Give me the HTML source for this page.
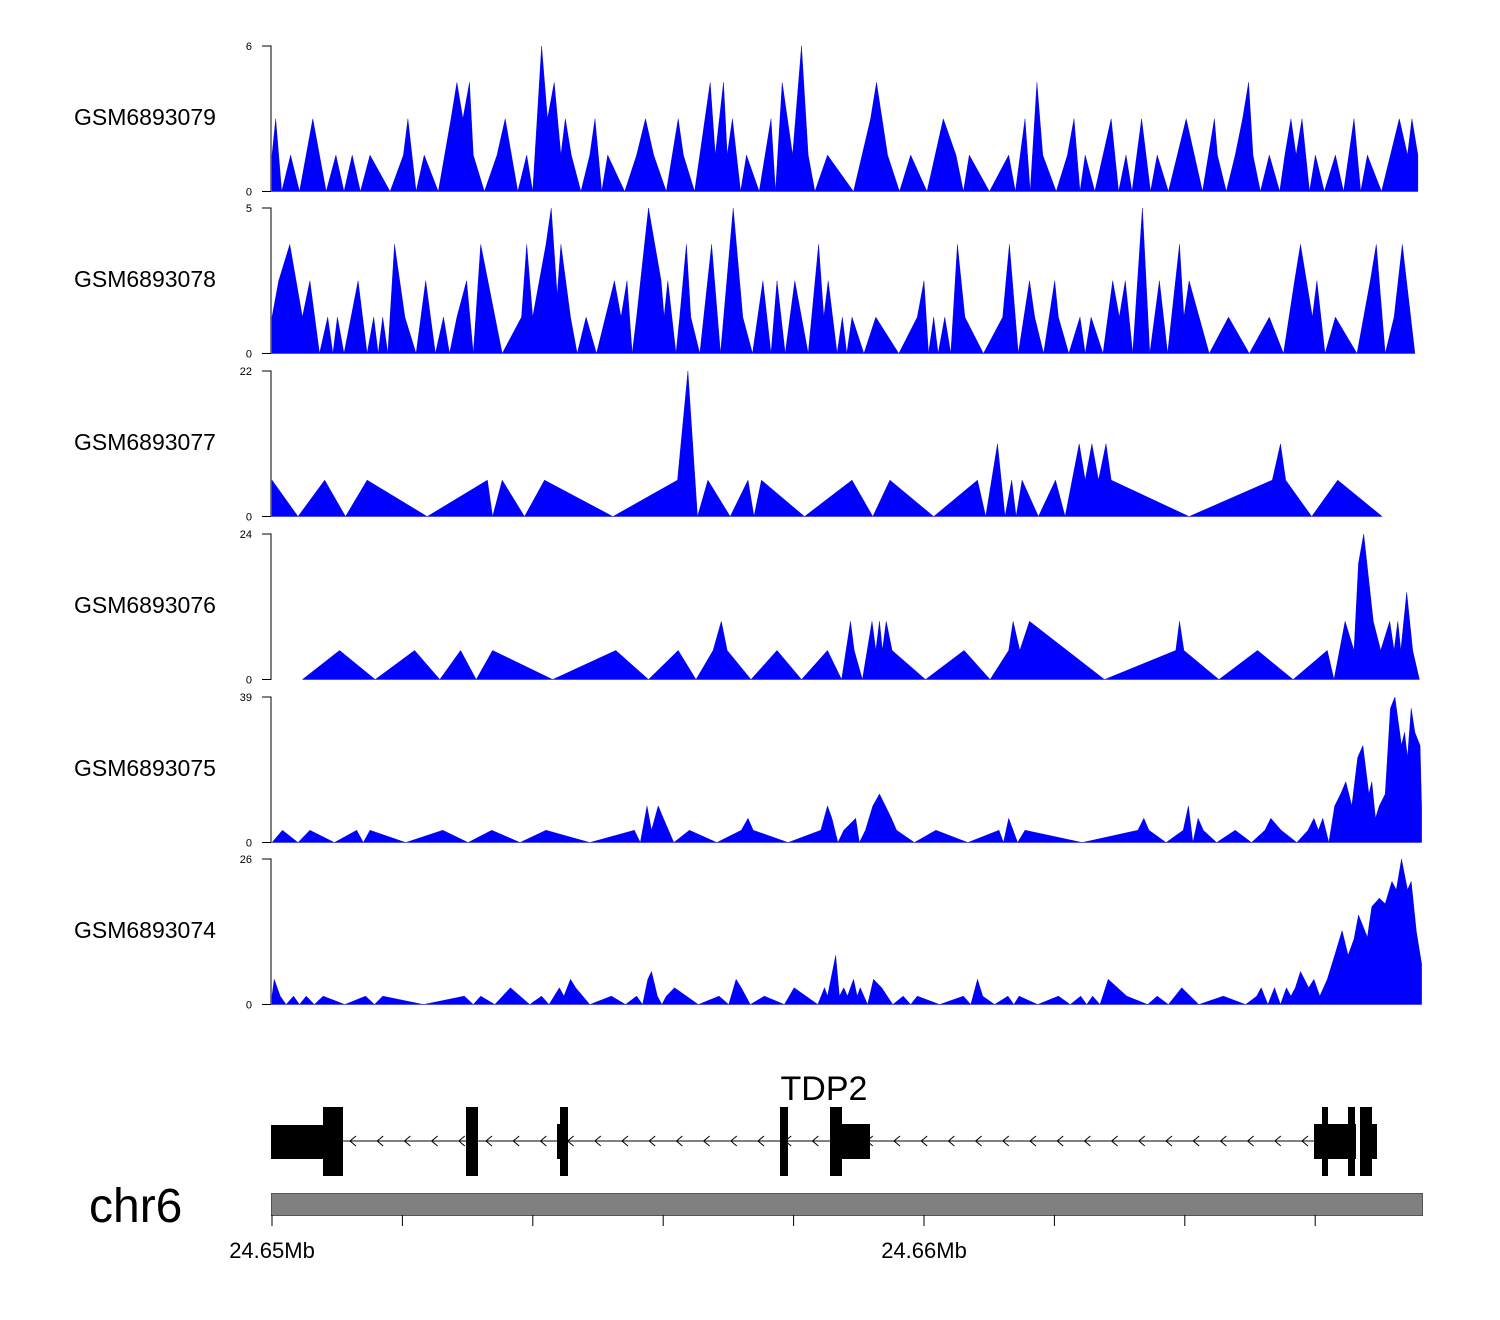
<!DOCTYPE html>
<html><head><meta charset="utf-8"><style>
body{margin:0;background:#fff;width:1500px;height:1320px;overflow:hidden}
svg{display:block;font-family:"Liberation Sans",sans-serif}
</style></head><body>
<svg id="chart" width="1500" height="1320" viewBox="0 0 1500 1320"></svg>
<script>
// Genomic scale
const regionStart = 24650000; // bp
const binSize = 11.39;        // bp per bin
const trackNames = ["GSM6893079","GSM6893078","GSM6893077","GSM6893076","GSM6893075","GSM6893074"];
const trackMax = [6,5,22,24,39,26];
const t1 = [[0,1.5],[5,3],[13,0],[25,1.5],[37,0],[55,3],[73,0],[86,1.5],[97,0],[108,1.5],[119,0],[132,1.5],[159,0],[177,1.5],[183,3],[194,0],[205,1.5],[224,0],[241,3],[249,4.5],[257,3],[266,4.5],[271,1.5],[286,0],[303,1.5],[314,3],[331,0],[343,1.5],[351,0],[363,6],[371,3],[380,4.5],[389,1.5],[395,3],[403,1.5],[416,0],[428,1.5],[435,3],[444,0],[452,1.5],[475,0],[491,1.5],[503,3],[514,1.5],[531,0],[547,3],[554,1.5],[569,0],[590,4.5],[597,1.5],[608,4.5],[613,1.5],[620,3],[631,0],[639,1.5],[656,0],[672,3],[678,0],[687,4.5],[701,1.5],[713,6],[722,1.5],[731,0],[748,1.5],[783,0],[806,3],[814,4.5],[829,1.5],[845,0],[860,1.5],[882,0],[904,3],[921,1.5],[931,0],[939,1.5],[966,0],[992,1.5],[1001,0],[1014,3],[1021,0],[1030,4.5],[1038,1.5],[1056,0],[1071,1.5],[1080,3],[1088,0],[1095,1.5],[1108,0],[1130,3],[1140,0],[1150,1.5],[1158,0],[1171,3],[1183,0],[1192,1.5],[1207,0],[1231,3],[1253,0],[1269,3],[1273,1.5],[1285,0],[1297,1.5],[1307,3],[1315,4.5],[1321,1.5],[1331,0],[1343,1.5],[1357,0],[1364,1.5],[1372,3],[1379,1.5],[1387,3],[1397,0],[1405,1.5],[1417,0],[1432,1.5],[1443,0],[1457,3],[1466,0],[1475,1.5],[1494,0],[1518,3],[1529,1.5],[1535,3],[1543,1.5]];
const t2 = [[0,1.25],[9,2.5],[24,3.75],[41,1.25],[51,2.5],[64,0],[75,1.25],[82,0],[88,1.25],[97,0],[116,2.5],[128,0],[137,1.25],[143,0],[149,1.25],[156,0],[165,3.75],[179,1.25],[194,0],[207,2.5],[220,0],[231,1.25],[239,0],[249,1.25],[262,2.5],[271,0],[281,3.75],[310,0],[336,1.25],[343,3.75],[351,1.25],[369,3.75],[376,5],[384,2],[389,3.75],[402,1.25],[411,0],[423,1.25],[437,0],[461,2.5],[470,1.25],[478,2.5],[485,0],[491,1.25],[507,5],[524,2.5],[528,1.25],[533,2.5],[544,0],[549,1.25],[558,3.75],[564,1.25],[576,0],[592,3.75],[604,0],[621,5],[634,1.25],[647,0],[661,2.5],[672,0],[680,2.5],[691,0],[704,2.5],[722,0],[736,3.75],[743,1.25],[749,2.5],[761,0],[768,1.25],[774,0],[781,1.25],[797,0],[813,1.25],[844,0],[869,1.25],[878,2.5],[884,0],[891,1.25],[897,0],[906,1.25],[914,0],[923,3.75],[933,1.25],[958,0],[984,1.25],[993,3.75],[1005,0],[1020,2.5],[1027,1.25],[1039,0],[1054,2.5],[1059,1.25],[1073,0],[1088,1.25],[1095,0],[1103,1.25],[1119,0],[1132,2.5],[1141,1.25],[1149,2.5],[1159,0],[1172,5],[1182,0],[1195,2.5],[1206,0],[1222,3.75],[1228,1.25],[1235,2.5],[1262,0],[1288,1.25],[1316,0],[1343,1.25],[1362,0],[1377,2.5],[1385,3.75],[1401,1.25],[1407,2.5],[1418,0],[1432,1.25],[1461,0],[1479,2.5],[1487,3.75],[1499,0],[1511,1.25],[1522,3.75],[1539,0]];
const t3 = [[0,5.5],[35,0],[71,5.5],[99,0],[128,5.5],[209,0],[290,5.5],[297,0],[310,5.5],[340,0],[367,5.5],[459,0],[546,5.5],[560,22],[573,0],[587,5.5],[617,0],[641,5.5],[649,0],[659,5.5],[717,0],[781,5.5],[809,0],[832,5.5],[891,0],[950,5.5],[961,0],[977,11],[987,0],[996,5.5],[1002,0],[1010,5.5],[1032,0],[1055,5.5],[1068,0],[1087,11],[1095,5.5],[1104,11],[1113,5.5],[1123,11],[1130,5.5],[1235,0],[1347,5.5],[1358,11],[1365,5.5],[1400,0],[1435,5.5],[1495,0]];
const t4 = [[41,0],[91,4.8],[139,0],[192,4.8],[226,0],[254,4.8],[275,0],[297,4.8],[378,0],[463,4.8],[507,0],[547,4.8],[571,0],[594,4.8],[605,9.6],[613,4.8],[645,0],[680,4.8],[713,0],[748,4.8],[767,0],[779,9.6],[784,4.8],[795,0],[808,9.6],[813,4.8],[818,9.6],[822,4.8],[827,9.6],[835,4.8],[880,0],[932,4.8],[967,0],[992,4.8],[998,9.6],[1007,4.8],[1020,9.6],[1121,0],[1217,4.8],[1222,9.6],[1228,4.8],[1275,0],[1327,4.8],[1375,0],[1421,4.8],[1430,0],[1445,9.6],[1457,4.8],[1463,19.2],[1470,24],[1483,9.6],[1493,4.8],[1505,9.6],[1511,4.8],[1516,9.6],[1520,4.8],[1528,14.4],[1536,4.8],[1545,0]];
const t5 = [[0,0],[14,3.3],[35,0],[51,3.3],[84,0],[114,3.3],[123,0],[132,3.3],[180,0],[230,3.3],[264,0],[296,3.3],[334,0],[369,3.3],[428,0],[488,3.3],[496,0],[505,9.8],[511,3.3],[520,9.8],[527,6.5],[541,0],[562,3.3],[599,0],[632,3.3],[641,6.5],[648,3.3],[695,0],[739,3.3],[748,9.8],[754,6.5],[762,0],[770,3.3],[786,6.5],[791,0],[799,3.3],[809,9.8],[818,13],[826,9.8],[834,6.5],[841,3.3],[865,0],[894,3.3],[937,0],[979,3.3],[985,0],[992,6.5],[998,3.3],[1004,0],[1014,3.3],[1091,0],[1166,3.3],[1174,6.5],[1181,3.3],[1204,0],[1227,3.3],[1234,9.8],[1240,0],[1247,6.5],[1254,3.3],[1272,0],[1297,3.3],[1319,0],[1337,3.3],[1345,6.5],[1359,3.3],[1380,0],[1395,3.3],[1403,6.5],[1409,3.3],[1415,6.5],[1423,0],[1431,9.8],[1439,13],[1446,16.3],[1454,9.8],[1462,22.8],[1469,26],[1477,13],[1481,16.3],[1486,6.5],[1491,9.8],[1499,13],[1506,36],[1512,39],[1521,26],[1525,29.5],[1529,22.8],[1534,36],[1539,29.5],[1546,26],[1548,9.8]];
const t6 = [[0,1.5],[3,4.5],[11,1.5],[19,0],[29,1.5],[37,0],[46,1.5],[57,0],[69,1.5],[98,0],[126,1.5],[138,0],[149,1.5],[204,0],[259,1.5],[271,0],[281,1.5],[300,0],[321,3],[347,0],[363,1.5],[373,0],[387,3],[393,1.5],[402,4.5],[409,3],[428,0],[457,1.5],[476,0],[491,1.5],[499,0],[506,4.5],[511,5.9],[519,1.5],[525,0],[531,1.5],[542,3],[574,0],[602,1.5],[615,0],[625,4.5],[632,3],[644,0],[663,1.5],[690,0],[703,3],[735,0],[744,3],[748,1.5],[759,8.8],[764,1.5],[770,3],[775,1.5],[783,4.5],[788,1.5],[792,3],[802,0],[810,4.5],[821,3],[836,0],[850,1.5],[860,0],[869,1.5],[899,0],[931,1.5],[941,0],[950,4.5],[957,1.5],[973,0],[991,1.5],[999,0],[1006,1.5],[1031,0],[1059,1.5],[1075,0],[1089,1.5],[1097,0],[1105,1.5],[1115,0],[1126,4.5],[1151,1.5],[1179,0],[1192,1.5],[1207,0],[1225,3],[1248,0],[1281,1.5],[1311,0],[1326,1.5],[1332,3],[1341,0],[1350,3],[1358,0],[1366,3],[1372,1.5],[1378,3],[1385,5.9],[1396,3],[1403,4.5],[1411,1.5],[1421,4.5],[1431,8.8],[1441,13.2],[1449,8.8],[1457,11.7],[1463,16],[1475,12],[1481,17.5],[1491,19],[1499,18],[1508,22],[1514,20.5],[1521,26],[1529,20.5],[1534,22],[1541,13],[1548,7.3]];
const trackData = [t1,t2,t3,t4,t5,t6];
const xTickKb = [0,2,4,6,8,10,12,14,16];
const xTickLabels = {0:"24.65Mb",10:"24.66Mb"};

const NS="http://www.w3.org/2000/svg";
const svg=document.getElementById('chart');
function mk(tag,attrs,parent){const e=document.createElementNS(NS,tag);for(const k in attrs)e.setAttribute(k,attrs[k]);(parent||svg).appendChild(e);return e;}
const pxPerKb=65.2, x0=272;
function xScale(bp){return x0+(bp-regionStart)/1000*pxPerKb;}
function binToBp(b){return regionStart+b*binSize;}
const tops=[46,208,371,534,697,859], H=145.5, axisX=271;

trackData.forEach((d,i)=>{
  const top=tops[i], bot=top+H, mx=trackMax[i];
  const y=v=>bot-v/mx*H;
  const g=mk('g',{});
  
  
  const lbl=mk('text',{x:74,y:top+H/2+6,'font-size':23,fill:'#000'},g);
  lbl.textContent=trackNames[i];
  
  
  const ax=mk('path',{d:`M262,${top}H${axisX}V${bot}H262`,stroke:'#000','stroke-width':1,fill:'none'},g);
  
  
  const tt=mk('text',{x:252,y:top+4,'font-size':11,'text-anchor':'end'},g);tt.textContent=mx;
  
  
  const tb=mk('text',{x:252,y:bot+4,'font-size':11,'text-anchor':'end'},g);tb.textContent='0';
  
  
  let p=`M${xScale(binToBp(d[0][0])).toFixed(1)},${bot}`;
  d.forEach(pt=>{p+=`L${xScale(binToBp(pt[0])).toFixed(1)},${y(pt[1]).toFixed(1)}`;});
  p+=`L${xScale(binToBp(d[d.length-1][0])).toFixed(1)},${bot}Z`;
  const a=mk('path',{d:p,fill:'#0000ff',stroke:'#0000cc','stroke-width':0.4},g);
  
  
});

// gene model
const gg=mk('g',{});


mk('line',{x1:340,y1:1141,x2:1320,y2:1141,stroke:'#000','stroke-width':1},gg);
for(let ax=350;ax<1310;ax+=27.2){mk('path',{d:`M${ax+6},${1136}L${ax},${1141}L${ax+6},${1146}`,stroke:'#000','stroke-width':1,fill:'none'},gg);}
const exons=[[271,323,1125,1159],[323,343,1107,1176],[466,478,1107,1176],[557,562,1124,1159],[560,568,1107,1176],[780,788,1107,1176],[830,842,1107,1176],[842,870,1124,1159],[1314,1356,1124,1159],[1322,1328,1107,1176],[1348,1355,1107,1176],[1360,1372,1107,1176],[1372,1377,1124,1159]];
exons.forEach(e=>{const r=mk('rect',{x:e[0],y:e[2],width:e[1]-e[0],height:e[3]-e[2],fill:'#000'},gg);

});
const gl=mk('text',{x:824,y:1100,'font-size':34,'text-anchor':'middle'},gg);gl.textContent='TDP2';



// chromosome axis
const cl=mk('text',{x:89,y:1222,'font-size':48},svg);cl.textContent='chr6';


const bar=mk('rect',{x:271.5,y:1193.5,width:1151,height:22,fill:'#808080',stroke:'#555','stroke-width':1});


xTickKb.forEach(k=>{
  const x=xScale(regionStart+k*1000);
  const t=mk('line',{x1:x,y1:1215,x2:x,y2:1226,stroke:'#000','stroke-width':1});
  
  
  if(xTickLabels[k]){const l=mk('text',{x:x,y:1258,'font-size':22,'text-anchor':'middle'});l.textContent=xTickLabels[k];
  
  }
});
</script>
</body></html>
